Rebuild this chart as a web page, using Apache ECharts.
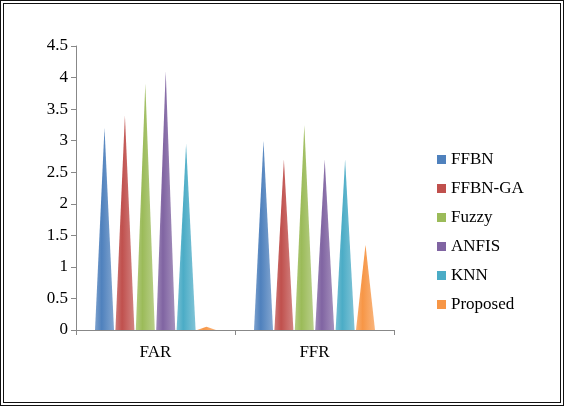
<!DOCTYPE html>
<html>
<head>
<meta charset="utf-8">
<script src="https://cdn.jsdelivr.net/npm/echarts@6/dist/echarts.min.js"></script>
<style>
  html, body { margin: 0; padding: 0; background: #fff; }
  #chart { width: 556px; height: 398px; border: 4px double #111; }
</style>
</head>
<body>
<div id="chart"></div>
<script>
// data
const categories = ['FAR', 'FFR']
const seriesNames = ['FFBN', 'FFBN-GA', 'Fuzzy', 'ANFIS', 'KNN', 'Proposed']
const ffbn = [3.2, 3.0]
const ffbnGa = [3.4, 2.7]
const fuzzy = [3.9, 3.25]
const anfis = [4.1, 2.7]
const knn = [2.95, 2.7]
const proposed = [0.05, 1.35]
const yTicks = ['0', '0.5', '1', '1.5', '2', '2.5', '3', '3.5', '4', '4.5']

const values = [ffbn, ffbnGa, fuzzy, anfis, knn, proposed]
const colors = ['#4f81bd', '#c0504d', '#9bbb59', '#8064a2', '#4bacc6', '#f79646']

function shade(c) {
  return {
    type: 'linear', x: 0, y: 0, x2: 1, y2: 0,
    colorStops: [
      { offset: 0, color: echarts.color.lift(c, 0.25) },
      { offset: 0.35, color: c },
      { offset: 1, color: echarts.color.lift(c, 0.3) }
    ]
  }
}

let chart = echarts.init(document.getElementById('chart'))
chart.setOption({
  animation: false,
  textStyle: { fontFamily: 'Liberation Serif' },
  grid: { left: 72, right: 166, top: 42, bottom: 72 },
  legend: {
    orient: 'vertical',
    left: 428, top: 142,
    itemGap: 12,
    itemWidth: 9, itemHeight: 9,
    icon: 'rect',
    textStyle: { fontSize: 17, fontFamily: 'Liberation Serif', color: '#000' },
    data: seriesNames.map((n, i) => ({ name: n, itemStyle: { color: colors[i] } }))
  },
  xAxis: {
    type: 'category',
    data: categories,
    axisLine: { lineStyle: { color: '#888' } },
    axisTick: { show: true, lineStyle: { color: '#888' } },
    axisLabel: { fontSize: 17, color: '#000', margin: 14 }
  },
  yAxis: {
    type: 'value',
    min: 0, max: 4.5, interval: 0.5,
    axisLine: { show: true, lineStyle: { color: '#888' } },
    axisTick: { show: true, lineStyle: { color: '#888' } },
    splitLine: { show: false },
    axisLabel: { fontSize: 17, color: '#000', formatter: v => yTicks[Math.round(v * 2)] }
  },
  series: seriesNames.map((name, i) => ({
    name: name,
    type: 'pictorialBar',
    symbol: 'triangle',
    symbolSize: [19, '100%'],
    barWidth: 20,
    barGap: '2%',
    barCategoryGap: '24%',
    itemStyle: { color: shade(colors[i]) },
    data: values[i]
  }))
})
</script>
</body>
</html>
